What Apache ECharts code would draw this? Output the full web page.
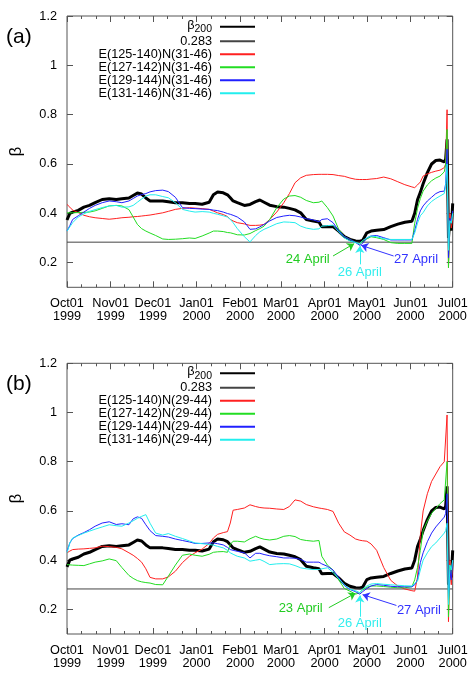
<!DOCTYPE html>
<html>
<head>
<meta charset="utf-8">
<script src="https://cdn.jsdelivr.net/npm/echarts@6/dist/echarts.min.js"></script>
<style>
html, body { margin: 0; padding: 0; background: #fff; }
#chart { width: 474px; height: 674px; }
</style>
</head>
<body>
<div id="chart"></div>
<script>
// sample dates shared by every curve
var DATES = [
	'1999-10-01','1999-10-03','1999-10-05','1999-10-09','1999-10-13','1999-10-17','1999-10-21','1999-10-26','1999-10-31','1999-11-05',
	'1999-11-09','1999-11-14','1999-11-17','1999-11-20','1999-11-23','1999-11-26','1999-11-29','1999-12-03','1999-12-08','1999-12-12',
	'1999-12-17','1999-12-22','1999-12-27','1999-12-31','2000-01-05','2000-01-10','2000-01-13','2000-01-16','2000-01-20','2000-01-23',
	'2000-01-25','2000-01-27','2000-01-30','2000-02-04','2000-02-08','2000-02-12','2000-02-15','2000-02-18','2000-02-22','2000-02-27',
	'2000-03-03','2000-03-07','2000-03-11','2000-03-15','2000-03-19','2000-03-24','2000-03-28','2000-03-30','2000-04-03','2000-04-07',
	'2000-04-11','2000-04-15','2000-04-19','2000-04-23','2000-04-26','2000-04-28','2000-05-01','2000-05-04','2000-05-08','2000-05-13',
	'2000-05-18','2000-05-23','2000-05-28','2000-06-02','2000-06-04','2000-06-06','2000-06-08','2000-06-10','2000-06-13','2000-06-16',
	'2000-06-19','2000-06-22','2000-06-25','2000-06-26','2000-06-27','2000-06-28','2000-06-29','2000-06-30','2000-07-01'
];

// beta200 (same curve in both panels)
var BETA200 = [
	0.373, 0.400, 0.405, 0.412, 0.425, 0.432, 0.443, 0.456, 0.459, 0.456,
	0.459, 0.462, 0.472, 0.482, 0.478, 0.462, 0.450, 0.450, 0.450, 0.447,
	0.443, 0.443, 0.440, 0.440, 0.437, 0.445, 0.475, 0.486, 0.483, 0.475,
	0.463, 0.450, 0.443, 0.432, 0.436, 0.447, 0.454, 0.445, 0.433, 0.427,
	0.425, 0.420, 0.414, 0.402, 0.375, 0.369, 0.365, 0.345, 0.346, 0.346,
	0.328, 0.306, 0.294, 0.288, 0.287, 0.290, 0.321, 0.328, 0.331, 0.334,
	0.346, 0.356, 0.364, 0.368, 0.400, 0.455, 0.485, 0.520, 0.565, 0.600,
	0.614, 0.616, 0.608, 0.620, 0.700, 0.300, 0.380, 0.330, 0.440
];
var THRESH = 0.283;

// panel (a)  N(31-46)
var RED_A = [
	0.436, 0.425, 0.413, 0.403, 0.392, 0.386, 0.382, 0.379, 0.376, 0.379,
	0.382, 0.384, 0.386, 0.387, 0.389, 0.391, 0.393, 0.397, 0.402, 0.408,
	0.416, 0.420, 0.423, 0.421, 0.419, 0.416, 0.409, 0.402, 0.395, 0.387,
	0.375, 0.369, 0.362, 0.357, 0.351, 0.351, 0.352, 0.355, 0.375, 0.405,
	0.443, 0.480, 0.524, 0.544, 0.554, 0.557, 0.558, 0.558, 0.558, 0.557,
	0.553, 0.550, 0.543, 0.538, 0.537, 0.537, 0.537, 0.539, 0.541, 0.547,
	0.540, 0.528, 0.516, 0.507, 0.504, 0.515, 0.527, 0.551, 0.560, 0.566,
	0.571, 0.575, 0.585, 0.600, 0.820, 0.180, 0.400, 0.340, 0.380
];
var GREEN_A = [
	0.402, 0.402, 0.402, 0.403, 0.404, 0.405, 0.410, 0.420, 0.430, 0.432,
	0.430, 0.415, 0.385, 0.355, 0.338, 0.328, 0.320, 0.310, 0.296, 0.294,
	0.295, 0.297, 0.300, 0.298, 0.308, 0.320, 0.328, 0.328, 0.326, 0.322,
	0.321, 0.318, 0.313, 0.312, 0.318, 0.330, 0.338, 0.348, 0.375, 0.423,
	0.458, 0.470, 0.472, 0.465, 0.452, 0.443, 0.445, 0.450, 0.423, 0.389,
	0.335, 0.306, 0.294, 0.283, 0.274, 0.285, 0.296, 0.305, 0.301, 0.294,
	0.281, 0.278, 0.278, 0.278, 0.360, 0.420, 0.460, 0.490, 0.515, 0.532,
	0.543, 0.551, 0.568, 0.600, 0.740, 0.180, 0.370, 0.360, 0.400
];
var BLUE_A = [
	0.328, 0.350, 0.375, 0.390, 0.405, 0.420, 0.432, 0.443, 0.450, 0.447,
	0.443, 0.450, 0.460, 0.470, 0.476, 0.480, 0.487, 0.492, 0.494, 0.488,
	0.465, 0.423, 0.420, 0.419, 0.417, 0.416, 0.413, 0.411, 0.405, 0.399,
	0.396, 0.392, 0.385, 0.365, 0.335, 0.337, 0.345, 0.355, 0.369, 0.383,
	0.389, 0.392, 0.390, 0.385, 0.378, 0.373, 0.366, 0.375, 0.378, 0.362,
	0.330, 0.306, 0.294, 0.282, 0.270, 0.278, 0.300, 0.308, 0.310, 0.301,
	0.292, 0.292, 0.292, 0.292, 0.330, 0.375, 0.410, 0.430, 0.450, 0.465,
	0.480, 0.488, 0.490, 0.520, 0.660, 0.220, 0.380, 0.360, 0.410
];
var CYAN_A = [
	0.328, 0.345, 0.362, 0.385, 0.398, 0.408, 0.415, 0.423, 0.430, 0.432,
	0.425, 0.426, 0.432, 0.445, 0.458, 0.470, 0.475, 0.475, 0.468, 0.463,
	0.443, 0.416, 0.409, 0.405, 0.407, 0.405, 0.400, 0.396, 0.390, 0.385,
	0.376, 0.362, 0.338, 0.305, 0.284, 0.310, 0.325, 0.335, 0.345, 0.358,
	0.365, 0.364, 0.362, 0.348, 0.340, 0.335, 0.337, 0.348, 0.350, 0.352,
	0.325, 0.300, 0.288, 0.281, 0.277, 0.290, 0.300, 0.308, 0.305, 0.297,
	0.294, 0.294, 0.294, 0.294, 0.320, 0.360, 0.390, 0.403, 0.430, 0.448,
	0.460, 0.470, 0.480, 0.510, 0.600, 0.250, 0.370, 0.360, 0.400
];

// panel (b)  N(29-44)
var RED_B = [
	0.430, 0.437, 0.443, 0.445, 0.446, 0.448, 0.450, 0.457, 0.455, 0.452,
	0.446, 0.430, 0.420, 0.407, 0.392, 0.365, 0.330, 0.324, 0.324, 0.332,
	0.355, 0.390, 0.416, 0.430, 0.445, 0.468, 0.490, 0.505, 0.512, 0.516,
	0.551, 0.603, 0.606, 0.612, 0.625, 0.618, 0.614, 0.612, 0.611, 0.608,
	0.606, 0.618, 0.645, 0.640, 0.626, 0.617, 0.612, 0.610, 0.606, 0.598,
	0.550, 0.515, 0.502, 0.486, 0.481, 0.479, 0.477, 0.466, 0.440, 0.370,
	0.318, 0.295, 0.283, 0.276, 0.274, 0.330, 0.500, 0.600, 0.670, 0.720,
	0.750, 0.780, 0.800, 0.800, 0.990, 0.150, 0.400, 0.300, 0.380
];
var GREEN_B = [
	0.382, 0.381, 0.380, 0.379, 0.378, 0.385, 0.392, 0.397, 0.405, 0.398,
	0.370, 0.338, 0.326, 0.317, 0.312, 0.309, 0.307, 0.301, 0.300, 0.335,
	0.380, 0.420, 0.425, 0.420, 0.416, 0.424, 0.432, 0.434, 0.435, 0.432,
	0.464, 0.477, 0.477, 0.474, 0.487, 0.497, 0.490, 0.485, 0.482, 0.486,
	0.497, 0.500, 0.496, 0.484, 0.480, 0.477, 0.480, 0.416, 0.380, 0.360,
	0.320, 0.285, 0.274, 0.262, 0.268, 0.280, 0.290, 0.295, 0.295, 0.293,
	0.290, 0.288, 0.288, 0.292, 0.320, 0.370, 0.440, 0.520, 0.560, 0.590,
	0.610, 0.630, 0.645, 0.650, 0.800, 0.170, 0.380, 0.340, 0.400
];
var BLUE_B = [
	0.436, 0.470, 0.488, 0.502, 0.512, 0.524, 0.538, 0.551, 0.556, 0.545,
	0.548, 0.544, 0.568, 0.576, 0.570, 0.544, 0.520, 0.500, 0.497, 0.494,
	0.486, 0.480, 0.474, 0.468, 0.468, 0.470, 0.470, 0.467, 0.462, 0.452,
	0.443, 0.440, 0.436, 0.430, 0.409, 0.428, 0.428, 0.423, 0.418, 0.414,
	0.409, 0.409, 0.408, 0.403, 0.392, 0.392, 0.392, 0.385, 0.375, 0.360,
	0.330, 0.297, 0.281, 0.272, 0.262, 0.272, 0.285, 0.295, 0.301, 0.298,
	0.294, 0.292, 0.292, 0.292, 0.300, 0.320, 0.390, 0.430, 0.475, 0.510,
	0.535, 0.555, 0.575, 0.590, 0.670, 0.240, 0.360, 0.320, 0.400
];
var CYAN_B = [
	0.430, 0.470, 0.490, 0.500, 0.510, 0.518, 0.526, 0.535, 0.544, 0.540,
	0.538, 0.551, 0.560, 0.570, 0.578, 0.585, 0.550, 0.510, 0.502, 0.508,
	0.497, 0.488, 0.478, 0.470, 0.467, 0.464, 0.461, 0.456, 0.450, 0.440,
	0.430, 0.424, 0.416, 0.409, 0.396, 0.400, 0.403, 0.395, 0.382, 0.385,
	0.386, 0.385, 0.378, 0.369, 0.365, 0.362, 0.362, 0.365, 0.369, 0.350,
	0.325, 0.300, 0.282, 0.276, 0.268, 0.283, 0.295, 0.303, 0.305, 0.302,
	0.300, 0.298, 0.296, 0.295, 0.305, 0.315, 0.360, 0.400, 0.430, 0.455,
	0.470, 0.490, 0.510, 0.520, 0.550, 0.220, 0.380, 0.360, 0.400
];

var NAMES_A = ['E(125-140)N(31-46)', 'E(127-142)N(31-46)', 'E(129-144)N(31-46)', 'E(131-146)N(31-46)'];
var NAMES_B = ['E(125-140)N(29-44)', 'E(127-142)N(29-44)', 'E(129-144)N(29-44)', 'E(131-146)N(29-44)'];

// axis ticks
var X_TICKS = ['1999-10-01','1999-11-01','1999-12-01','2000-01-01','2000-02-01','2000-03-01','2000-04-01','2000-05-01','2000-06-01','2000-07-01'];
var X_LABELS = ['Oct01\n1999','Nov01\n1999','Dec01\n1999','Jan01\n2000','Feb01\n2000','Mar01\n2000','Apr01\n2000','May01\n2000','Jun01\n2000','Jul01\n2000'];
var Y_TICKS = [0.2, 0.4, 0.6, 0.8, 1.0, 1.2];
var Y_LABELS = ['0.2', '0.4', '0.6', '0.8', '1', '1.2'];

// arrows + dates written on the plots (data coordinates)
var NOTES_A = [
	{text: '24 April', color: '#22cc22', at: ['2000-03-20', 0.214], from: ['2000-04-07', 0.227], to: ['2000-04-22', 0.277]},
	{text: '26 April', color: '#33eeee', at: ['2000-04-26', 0.161], from: ['2000-04-26', 0.193], to: ['2000-04-26', 0.267]},
	{text: '27 April', color: '#3333ff', at: ['2000-06-05', 0.213], from: ['2000-05-20', 0.227], to: ['2000-04-27', 0.270]}
];
var NOTES_B = [
	{text: '23 April', color: '#22cc22', at: ['2000-03-15', 0.204], from: ['2000-04-04', 0.207], to: ['2000-04-23', 0.266]},
	{text: '26 April', color: '#33eeee', at: ['2000-04-26', 0.143], from: ['2000-04-26', 0.170], to: ['2000-04-26', 0.256]},
	{text: '27 April', color: '#3333ff', at: ['2000-06-07', 0.197], from: ['2000-05-22', 0.216], to: ['2000-04-28', 0.260]}
];

var FONT = '"Liberation Sans", Arial, Helvetica, sans-serif';
var FRAME = '#555';
var COLORS = ['#ff2020', '#22dd22', '#2020ff', '#22eeee'];

//日期字符串 -> 毫秒（UTC，避免时区偏移）
function ts(s) {
	var p = s.split('-');
	return Date.UTC(+p[0], +p[1] - 1, +p[2]);
}

var X_TICK_TS = X_TICKS.map(ts);
var X_MINOR_TS = [];
for (var i = 0; i < X_TICK_TS.length - 1; i++) {
	var a = X_TICK_TS[i], b = X_TICK_TS[i + 1];
	X_MINOR_TS.push(a + (b - a) / 3, a + 2 * (b - a) / 3);
}

function xLabel(v) {
	for (var i = 0; i < X_TICK_TS.length; i++) {
		if (Math.abs(X_TICK_TS[i] - v) < 3600000) return X_LABELS[i];
	}
	return '';
}
function yLabel(v) {
	for (var i = 0; i < Y_TICKS.length; i++) {
		if (Math.abs(Y_TICKS[i] - v) < 1e-6) return Y_LABELS[i];
	}
	return '';
}

function merge(target, src) {
	for (var key in src) {
		var v = src[key];
		if (v && typeof v === 'object' && !Array.isArray(v)) {
			target[key] = merge(target[key] && typeof target[key] === 'object' ? target[key] : {}, v);
		} else {
			target[key] = v;
		}
	}
	return target;
}

//一组 x 轴：下方主刻度+标签、下方小刻度、上方主刻度、上方小刻度
function xAxesFor(gi) {
	var base = {
		type: 'value', gridIndex: gi, min: X_TICK_TS[0], max: X_TICK_TS[X_TICK_TS.length - 1],
		axisLine: {show: false}, splitLine: {show: false}
	};
	return [
		merge(merge({}, base), {
			position: 'bottom',
			axisTick: {show: true, inside: true, length: 6, customValues: X_TICK_TS, lineStyle: {color: FRAME}},
			axisLabel: {show: true, customValues: X_TICK_TS, formatter: xLabel, color: '#000', fontSize: 12.7,
				lineHeight: 12.7, fontFamily: FONT, margin: 10}
		}),
		merge(merge({}, base), {
			position: 'bottom',
			axisTick: {show: true, inside: true, length: 3, customValues: X_MINOR_TS, lineStyle: {color: FRAME}},
			axisLabel: {show: false}
		}),
		merge(merge({}, base), {
			position: 'top',
			axisTick: {show: true, inside: true, length: 6, customValues: X_TICK_TS, lineStyle: {color: FRAME}},
			axisLabel: {show: false}
		}),
		merge(merge({}, base), {
			position: 'top',
			axisTick: {show: true, inside: true, length: 3, customValues: X_MINOR_TS, lineStyle: {color: FRAME}},
			axisLabel: {show: false}
		})
	];
}

function yAxesFor(gi) {
	var base = {
		type: 'value', gridIndex: gi, min: 0.1, max: 1.2,
		axisLine: {show: false}, splitLine: {show: false}
	};
	return [
		merge(merge({}, base), {
			position: 'left',
			name: 'β', nameLocation: 'middle', nameGap: 42, nameRotate: 90,
			nameTextStyle: {fontSize: 17, color: '#000', fontFamily: FONT},
			axisTick: {show: true, inside: true, length: 6, customValues: Y_TICKS, lineStyle: {color: FRAME}},
			axisLabel: {show: true, customValues: Y_TICKS, formatter: yLabel, color: '#000', fontSize: 12.7,
				fontFamily: FONT, margin: 10}
		}),
		merge(merge({}, base), {
			position: 'right',
			axisTick: {show: true, inside: true, length: 6, customValues: Y_TICKS, lineStyle: {color: FRAME}},
			axisLabel: {show: false}
		})
	];
}

function lineSeries(name, values, color, width, xi, yi, note) {
	var s = {
		type: 'line', name: name, xAxisIndex: xi, yAxisIndex: yi,
		showSymbol: false, symbol: 'none', animation: false,
		lineStyle: {color: color, width: width}, itemStyle: {color: color},
		emphasis: {disabled: true},
		data: DATES.map(function(d, i) { return [ts(d), values[i]]; })
	};
	if (note) {
		s.markLine = {
			silent: true, animation: false, symbol: ['none', 'arrow'], symbolSize: 7,
			label: {show: false},
			lineStyle: {color: note.color, width: 1, type: 'solid'},
			data: [[{coord: [ts(note.from[0]), note.from[1]]}, {coord: [ts(note.to[0]), note.to[1]]}]]
		};
		s.markPoint = {
			silent: true, animation: false, symbol: 'circle', symbolSize: 1,
			itemStyle: {color: 'rgba(0,0,0,0)'},
			label: {show: true, position: 'inside', formatter: note.text, color: note.color, fontSize: 13, fontFamily: FONT},
			data: [{coord: [ts(note.at[0]), note.at[1]]}]
		};
	}
	return s;
}

function thresholdSeries(xi, yi) {
	return {
		type: 'line', name: '0.283', xAxisIndex: xi, yAxisIndex: yi,
		showSymbol: false, symbol: 'none', animation: false,
		lineStyle: {color: '#444', width: 1}, itemStyle: {color: '#444'},
		emphasis: {disabled: true},
		data: [[X_TICK_TS[0], THRESH], [X_TICK_TS[X_TICK_TS.length - 1], THRESH]]
	};
}

function panelSeries(names, red, green, blue, cyan, notes, xi, yi) {
	return [
		lineSeries('β200', BETA200, '#000', 3, xi, yi),
		thresholdSeries(xi, yi),
		lineSeries(names[0], red, COLORS[0], 1, xi, yi),
		lineSeries(names[1], green, COLORS[1], 1, xi, yi, notes[0]),
		lineSeries(names[2], blue, COLORS[2], 1, xi, yi, notes[2]),
		lineSeries(names[3], cyan, COLORS[3], 1, xi, yi, notes[1])
	];
}

function legendFor(names, top) {
	return {
		orient: 'vertical', right: 218, top: top, padding: 0, itemGap: 0,
		itemWidth: 35, itemHeight: 13, align: 'right', selectedMode: false,
		itemStyle: {opacity: 0},
		data: ['β200', '0.283'].concat(names),
		formatter: function(name) {
			return name === 'β200' ? '{g|β}{s|200}' : name;
		},
		textStyle: {
			color: '#000', fontSize: 12.7, fontFamily: FONT, lineHeight: 13, padding: [0, 3, 0, 0],
			rich: {
				g: {fontSize: 12.7, fontFamily: FONT, lineHeight: 16, verticalAlign: 'top', color: '#000'},
				s: {fontSize: 10.5, fontFamily: FONT, lineHeight: 8, verticalAlign: 'bottom', color: '#000'}
			}
		}
	};
}

var myChart = echarts.init(document.getElementById('chart'), null, {renderer: 'canvas'});
var option = {
	animation: false,
	backgroundColor: '#fff',
	textStyle: {fontFamily: FONT},
	title: [
		{text: '(a)', left: 6, top: 27, padding: 0, textStyle: {fontSize: 21, fontWeight: 'normal', color: '#000', fontFamily: FONT}},
		{text: '(b)', left: 6, top: 373.5, padding: 0, textStyle: {fontSize: 21, fontWeight: 'normal', color: '#000', fontFamily: FONT}}
	],
	legend: [legendFor(NAMES_A, 18.7), legendFor(NAMES_B, 365.3)],
	grid: [
		{left: 66.7, right: 21.3, top: 16, height: 271.3, show: true, borderColor: FRAME, borderWidth: 1, backgroundColor: 'transparent'},
		{left: 66.7, right: 21.3, top: 363.3, height: 270.7, show: true, borderColor: FRAME, borderWidth: 1, backgroundColor: 'transparent'}
	],
	xAxis: xAxesFor(0).concat(xAxesFor(1)),
	yAxis: yAxesFor(0).concat(yAxesFor(1)),
	series: panelSeries(NAMES_A, RED_A, GREEN_A, BLUE_A, CYAN_A, NOTES_A, 0, 0)
		.concat(panelSeries(NAMES_B, RED_B, GREEN_B, BLUE_B, CYAN_B, NOTES_B, 4, 2))
};
myChart.setOption(option);
</script>
</body>
</html>
